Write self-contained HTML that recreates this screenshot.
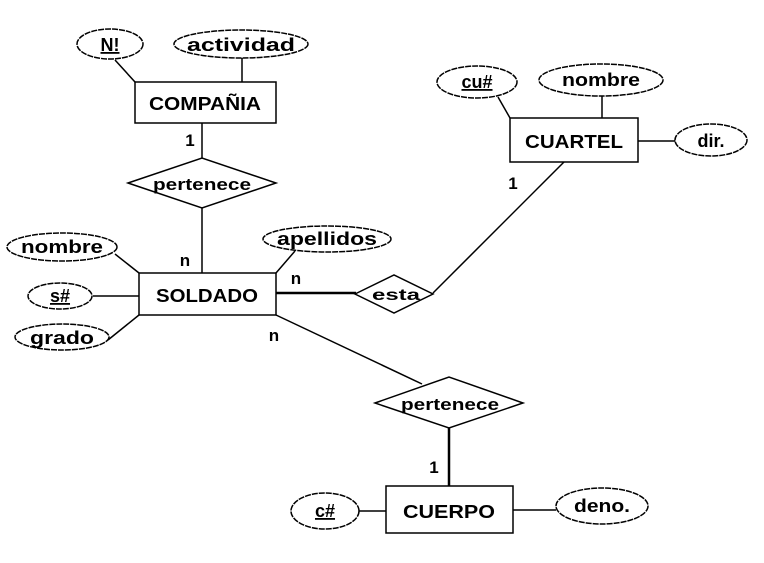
<!DOCTYPE html>
<html><head><style>body{margin:0;background:#fff}svg{display:block}</style></head><body>
<svg width="764" height="563" viewBox="0 0 764 563" xmlns="http://www.w3.org/2000/svg" font-family="Liberation Sans, sans-serif" font-weight="bold" fill="none" stroke="#000">
<g stroke-width="1.5">
<line x1="115" y1="60" x2="135" y2="82"/>
<line x1="242" y1="58" x2="242" y2="82"/>
<line x1="202" y1="123" x2="202" y2="158"/>
<line x1="202" y1="208" x2="202" y2="273"/>
<line x1="115" y1="254" x2="139" y2="273"/>
<line x1="93" y1="296" x2="139" y2="296"/>
<line x1="108" y1="340" x2="139" y2="315"/>
<line x1="295" y1="251" x2="276" y2="273"/>
<line x1="276" y1="293" x2="356" y2="293" stroke-width="2.5"/>
<line x1="433" y1="293" x2="564" y2="162"/>
<line x1="276" y1="315" x2="422" y2="384"/>
<line x1="449" y1="428" x2="449" y2="486" stroke-width="2.5"/>
<line x1="498" y1="97" x2="510" y2="118"/>
<line x1="602" y1="96" x2="602" y2="118"/>
<line x1="638" y1="141" x2="675" y2="141"/>
<line x1="359" y1="511" x2="386" y2="511"/>
<line x1="513" y1="510" x2="556" y2="510"/>
<rect x="135" y="82" width="141" height="41" fill="#fff"/>
<rect x="139" y="273" width="137" height="42" fill="#fff"/>
<rect x="510" y="118" width="128" height="44" fill="#fff"/>
<rect x="386" y="486" width="127" height="47" fill="#fff"/>
<polygon points="128,183 202,158 276,183 202,208" fill="#fff"/>
<polygon points="355,294 394,275 433,294 394,313" fill="#fff"/>
<polygon points="375,403 449,377 523,403 449,428" fill="#fff"/>
<ellipse cx="110" cy="44" rx="33" ry="15" fill="#fff" stroke-dasharray="6 1"/>
<ellipse cx="241" cy="44" rx="67" ry="14" fill="#fff" stroke-dasharray="6 1"/>
<ellipse cx="62" cy="247" rx="55" ry="14" fill="#fff" stroke-dasharray="6 1"/>
<ellipse cx="60" cy="296" rx="32" ry="13" fill="#fff" stroke-dasharray="6 1"/>
<ellipse cx="62" cy="337" rx="47" ry="13" fill="#fff" stroke-dasharray="6 1"/>
<ellipse cx="327" cy="239" rx="64" ry="13" fill="#fff" stroke-dasharray="6 1"/>
<ellipse cx="477" cy="82" rx="40" ry="16" fill="#fff" stroke-dasharray="6 1"/>
<ellipse cx="601" cy="80" rx="62" ry="16" fill="#fff" stroke-dasharray="6 1"/>
<ellipse cx="711" cy="140" rx="36" ry="16" fill="#fff" stroke-dasharray="6 1"/>
<ellipse cx="325" cy="511" rx="34" ry="18" fill="#fff" stroke-dasharray="6 1"/>
<ellipse cx="602" cy="506" rx="46" ry="18" fill="#fff" stroke-dasharray="6 1"/>
</g>
<g fill="#000" stroke="none" font-size="18" text-anchor="middle">
<text x="205" y="110" textLength="112" lengthAdjust="spacingAndGlyphs">COMPAÑIA</text>
<text x="207" y="302" textLength="102" lengthAdjust="spacingAndGlyphs">SOLDADO</text>
<text x="574" y="148" textLength="98" lengthAdjust="spacingAndGlyphs">CUARTEL</text>
<text x="449" y="518" textLength="92" lengthAdjust="spacingAndGlyphs">CUERPO</text>
<text x="110" y="51" text-decoration="underline">N!</text>
<text x="241" y="51" textLength="108" lengthAdjust="spacingAndGlyphs">actividad</text>
<text x="62" y="253" textLength="82" lengthAdjust="spacingAndGlyphs">nombre</text>
<text x="60" y="302" text-decoration="underline">s#</text>
<text x="62" y="344" textLength="64" lengthAdjust="spacingAndGlyphs">grado</text>
<text x="327" y="245" textLength="100" lengthAdjust="spacingAndGlyphs">apellidos</text>
<text x="477" y="88" text-decoration="underline">cu#</text>
<text x="601" y="86" textLength="78" lengthAdjust="spacingAndGlyphs">nombre</text>
<text x="711" y="147">dir.</text>
<text x="325" y="517" text-decoration="underline">c#</text>
<text x="602" y="512" textLength="56" lengthAdjust="spacingAndGlyphs">deno.</text>
<text x="202" y="190" font-size="17" textLength="98" lengthAdjust="spacingAndGlyphs">pertenece</text>
<text x="396" y="300" font-size="16" textLength="48" lengthAdjust="spacingAndGlyphs">esta</text>
<text x="450" y="410" font-size="17" textLength="98" lengthAdjust="spacingAndGlyphs">pertenece</text>
<text x="190" y="146" font-size="17">1</text>
<text x="185" y="266" font-size="17">n</text>
<text x="296" y="284" font-size="17">n</text>
<text x="274" y="341" font-size="17">n</text>
<text x="513" y="189" font-size="17">1</text>
<text x="434" y="473" font-size="17">1</text>
</g>
</svg>
</body></html>
